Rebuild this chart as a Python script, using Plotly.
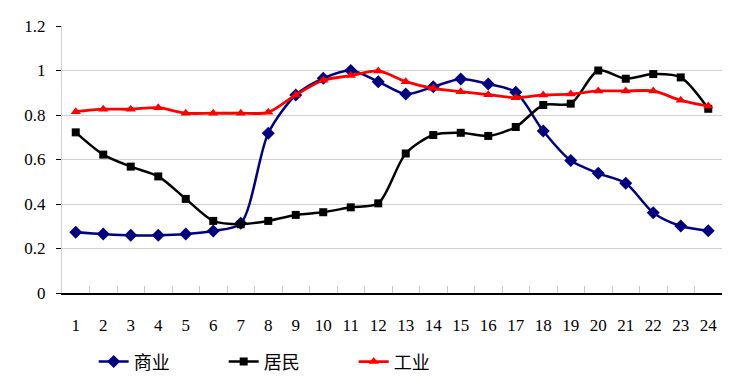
import plotly.graph_objects as go

hours = [str(i) for i in range(1, 25)]
shangye = [0.273, 0.265, 0.259, 0.259, 0.265, 0.279, 0.313, 0.718, 0.89, 0.965, 1.0, 0.95,
           0.894, 0.927, 0.962, 0.939, 0.902, 0.728, 0.595, 0.538, 0.493, 0.361, 0.301, 0.28]
jumin = [0.722, 0.622, 0.568, 0.524, 0.423, 0.324, 0.309, 0.324, 0.351, 0.363, 0.385, 0.403,
         0.627, 0.71, 0.72, 0.706, 0.746, 0.845, 0.851, 1.0, 0.963, 0.984, 0.969, 0.828]
gongye = [0.815, 0.826, 0.826, 0.833, 0.808, 0.808, 0.808, 0.812, 0.89, 0.956, 0.977, 0.998,
          0.95, 0.92, 0.905, 0.891, 0.878, 0.89, 0.894, 0.908, 0.908, 0.908, 0.866, 0.84]
y_ticks = [0, 0.2, 0.4, 0.6, 0.8, 1, 1.2]
y_labels = ["0", "0.2", "0.4", "0.6", "0.8", "1", "1.2"]

serif = "Liberation Serif"
serif_cjk = "Liberation Serif, Noto Sans CJK SC"

fig = go.Figure()
fig.add_trace(go.Scatter(x=hours, y=shangye, name="商业", mode="lines+markers",
                         line=dict(color="#000080", width=2.5, shape="spline", smoothing=0.8),
                         marker=dict(symbol="diamond", size=10, color="#000080")))
fig.add_trace(go.Scatter(x=hours, y=jumin, name="居民", mode="lines+markers",
                         line=dict(color="#000000", width=2.5, shape="spline", smoothing=0.8),
                         marker=dict(symbol="square", size=8, color="#000000")))
fig.add_trace(go.Scatter(x=hours, y=gongye, name="工业", mode="lines+markers",
                         line=dict(color="#ff0000", width=2.8, shape="spline", smoothing=0.8),
                         marker=dict(symbol="triangle-up", size=9, color="#ff0000")))

fig.update_layout(
    width=747, height=384,
    margin=dict(l=62, r=25, t=26, b=91, autoexpand=False),
    paper_bgcolor="white", plot_bgcolor="white",
    font=dict(family=serif, color="black", size=16),
    showlegend=True,
    legend=dict(orientation="h", x=0.048, xanchor="left", y=-0.258, yanchor="middle",
                font=dict(size=18, family=serif_cjk), entrywidth=85, entrywidthmode="pixels",
                bgcolor="rgba(0,0,0,0)"),
    xaxis=dict(type="category", range=[-0.5, 23.5], showgrid=False,
               showline=True, linecolor="black", linewidth=1.5,
               ticks="inside", ticklen=7, tickcolor="#c8c8c8", tickson="boundaries",
               tickfont=dict(size=17, family=serif), ticklabelstandoff=16),
    yaxis=dict(range=[0, 1.2], tickvals=y_ticks, ticktext=y_labels,
               showgrid=True, gridcolor="#d0d0d0", gridwidth=1,
               showline=True, linecolor="#d0d0d0", linewidth=1,
               ticks="outside", ticklen=5, tickcolor="black",
               tickfont=dict(size=17, family=serif), ticklabelstandoff=7,
               zeroline=False),
)

fig.write_html("out.html", config={"displayModeBar": False},
               post_script="document.body.style.margin='0';document.body.style.padding='0';")
